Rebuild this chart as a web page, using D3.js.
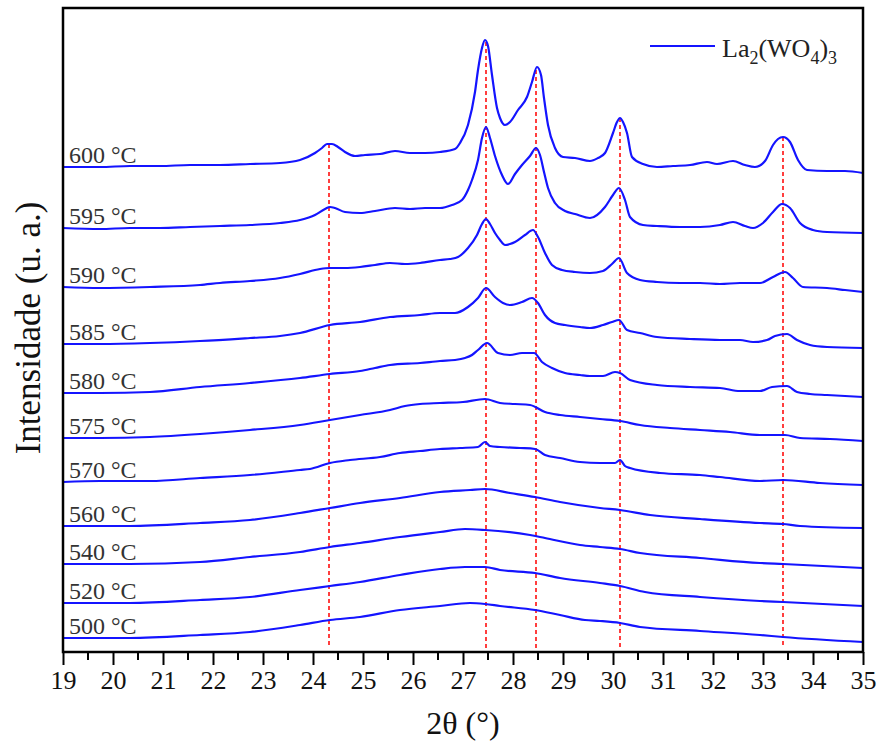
<!DOCTYPE html>
<html>
<head>
<meta charset="utf-8">
<script src="https://cdn.jsdelivr.net/npm/d3@7"></script>
<style>
  body { margin: 0; background: #fff; }
  svg { display: block; }
</style>
</head>
<body>
<div id="chart"></div>
<script>
// 2θ (degrees) vs stacked intensity (a.u.), one array per temperature
const s600 = [[19.00,488],[19.74,488],[20.34,489],[20.94,489],[21.54,490],[22.14,490],[22.74,491],[23.34,492],[23.74,495],[24.04,502],[24.18,507],[24.28,511],[24.38,511],[24.50,508],[24.64,503],[24.84,499],[25.04,500],[25.34,501],[25.64,504],[25.94,502],[26.24,502],[26.54,503],[26.84,506],[26.94,512],[27.10,530],[27.24,563],[27.30,585],[27.38,607],[27.44,615],[27.50,609],[27.58,580],[27.68,547],[27.74,537],[27.84,530],[27.94,533],[28.10,545],[28.28,558],[28.38,573],[28.48,588],[28.56,580],[28.62,557],[28.70,530],[28.84,507],[29.00,498],[29.24,497],[29.54,494],[29.70,497],[29.84,502],[30.00,522],[30.08,533],[30.14,537],[30.20,533],[30.28,522],[30.38,498],[30.60,491],[30.88,488],[31.20,489],[31.54,490],[31.88,493],[32.08,491],[32.40,494],[32.64,490],[32.84,488],[33.04,494],[33.20,510],[33.30,516],[33.40,518],[33.54,513],[33.70,495],[33.88,485],[34.28,484],[34.64,484],[35.00,482]];
const s595 = [[19.00,427],[19.74,426],[20.34,427],[20.94,427],[21.54,428],[22.14,429],[22.74,430],[23.34,432],[23.74,435],[24.04,440],[24.24,446],[24.34,448],[24.44,447],[24.64,443],[24.94,442],[25.24,444],[25.64,447],[25.94,446],[26.24,447],[26.54,447],[26.78,450],[26.98,455],[27.10,465],[27.18,475],[27.30,495],[27.38,517],[27.46,528],[27.54,517],[27.64,499],[27.78,480],[27.90,471],[28.04,481],[28.18,490],[28.34,499],[28.46,507],[28.54,500],[28.62,483],[28.70,467],[28.84,452],[29.04,444],[29.24,441],[29.54,437],[29.84,448],[30.00,460],[30.12,467],[30.24,455],[30.34,438],[30.60,430],[30.88,429],[31.34,428],[31.74,428],[32.14,430],[32.40,433],[32.64,429],[32.80,427],[33.00,432],[33.20,443],[33.38,451],[33.54,447],[33.74,432],[34.00,425],[34.28,423],[35.00,422]];
const s590 = [[19.00,368],[19.74,367],[20.74,368],[21.74,370],[22.14,372],[22.74,374],[23.34,377],[23.74,381],[24.14,386],[24.34,387],[24.64,387],[24.94,388],[25.24,390],[25.54,392],[25.84,391],[26.14,392],[26.54,395],[26.74,396],[26.90,398],[27.10,407],[27.28,420],[27.38,431],[27.46,436],[27.54,431],[27.64,422],[27.74,415],[27.84,410],[27.94,411],[28.04,413],[28.24,420],[28.40,425],[28.50,418],[28.64,402],[28.78,390],[28.98,385],[29.24,383],[29.54,382],[29.80,384],[29.98,391],[30.12,397],[30.28,382],[30.54,375],[30.88,373],[31.34,372],[31.74,372],[32.14,371],[32.54,372],[32.94,372],[33.20,378],[33.44,383],[33.60,377],[33.80,368],[34.28,367],[34.64,365],[35.00,363]];
const s585 = [[19.00,311],[19.74,311],[20.74,312],[21.74,314],[22.74,317],[23.34,319],[23.74,322],[24.34,330],[24.94,333],[25.54,338],[26.14,340],[26.54,342],[26.84,342],[27.10,348],[27.30,357],[27.46,367],[27.64,358],[27.80,352],[27.94,350],[28.18,353],[28.38,357],[28.50,352],[28.64,340],[28.84,332],[29.04,330],[29.34,328],[29.54,327],[29.80,330],[29.98,333],[30.12,335],[30.28,325],[30.54,322],[30.88,318],[31.54,316],[32.14,315],[32.54,315],[32.80,313],[33.08,315],[33.24,319],[33.48,321],[33.68,315],[33.94,310],[34.28,308],[35.00,307]];
const s580 = [[19.00,262],[19.74,262],[20.74,263],[21.74,268],[22.74,272],[23.74,277],[24.34,281],[24.94,284],[25.24,287],[25.54,290],[26.14,292],[26.54,294],[26.84,295],[27.04,297],[27.18,300],[27.30,305],[27.48,312],[27.70,302],[27.94,300],[28.18,302],[28.42,302],[28.58,293],[28.78,287],[29.04,282],[29.34,280],[29.54,279],[29.80,279],[30.04,283],[30.14,282],[30.34,275],[30.88,270],[31.54,268],[32.14,267],[32.54,264],[32.94,264],[33.18,268],[33.48,269],[33.68,263],[33.94,261],[34.28,260],[35.00,258]];
const s575 = [[19.00,217],[19.74,217],[20.74,218],[21.74,221],[22.74,225],[23.74,230],[24.34,235],[24.94,240],[25.54,245],[25.84,249],[26.14,251],[26.54,252],[27.00,253],[27.44,256],[27.74,252],[28.04,251],[28.34,250],[28.64,243],[28.94,240],[29.34,238],[29.74,236],[30.14,234],[30.54,230],[31.14,227],[31.74,225],[32.34,223],[32.94,220],[33.44,220],[33.74,217],[34.34,216],[35.00,214]];
const s570 = [[19.00,173],[19.74,174],[20.74,174],[21.74,177],[22.74,180],[23.74,185],[23.94,186],[24.34,192],[24.74,195],[25.34,198],[25.74,202],[26.14,204],[26.54,206],[26.94,207],[27.30,208],[27.44,213],[27.54,209],[27.74,208],[28.14,207],[28.44,206],[28.64,200],[28.94,197],[29.34,193],[29.74,192],[30.04,192],[30.14,195],[30.24,189],[30.34,187],[30.94,182],[31.74,180],[32.14,178],[32.94,174],[33.40,175],[34.14,172],[35.00,170]];
const s560 = [[19.00,129],[20.34,129],[21.74,132],[22.74,135],[23.74,142],[24.34,147],[24.94,152],[25.74,157],[26.54,163],[27.14,165],[27.44,166],[27.94,162],[28.44,158],[28.94,153],[29.74,147],[30.14,145],[30.74,140],[31.74,136],[32.94,132],[33.40,131],[33.74,129],[35.00,127]];
const s540 = [[19.00,91],[20.34,91],[21.74,93],[22.74,98],[23.74,103],[24.34,108],[24.94,112],[25.74,118],[26.54,123],[27.04,126],[27.44,125],[28.34,120],[28.64,117],[29.34,110],[29.74,108],[30.14,106],[30.54,102],[31.74,97],[32.94,92],[33.40,91],[35.00,87]];
const s520 = [[19.00,52],[20.34,52],[21.74,55],[22.74,58],[23.74,65],[24.34,69],[24.94,73],[25.74,80],[26.54,86],[27.04,88],[27.44,88],[27.74,85],[28.44,82],[28.94,77],[29.74,72],[30.14,69],[30.64,63],[31.74,58],[32.94,54],[33.40,53],[35.00,49]];
const s500 = [[19.00,17],[20.34,17],[21.74,20],[22.74,23],[23.74,30],[24.34,35],[24.94,38],[25.74,45],[26.54,49],[27.14,52],[27.44,51],[27.74,49],[28.44,45],[28.94,40],[29.44,35],[29.74,34],[30.14,32],[30.54,28],[31.74,24],[32.94,20],[33.40,18],[35.00,13]];

const temperatures = ['600 °C', '595 °C', '590 °C', '585 °C', '580 °C', '575 °C', '570 °C', '560 °C', '540 °C', '520 °C', '500 °C'];
const seriesList = [s600, s595, s590, s585, s580, s575, s570, s560, s540, s520, s500];
// La2(WO4)3 reflections marked with dashed lines
const refPeaks = [24.32, 27.46, 28.46, 30.14, 33.40];
const xTicks = d3.range(19, 36, 1);
const xMinorTicks = d3.range(19.5, 35, 1);

const W = 879, H = 742;
const margin = {top: 8, right: 16, bottom: 90, left: 63};
const width = W - margin.left - margin.right;
const height = H - margin.top - margin.bottom;

const x = d3.scaleLinear().domain([19, 35]).range([0, width]);
const y = d3.scaleLinear().domain([3, 647]).range([height, 0]);

const svg = d3.select('#chart').append('svg')
  .attr('width', W)
  .attr('height', H);

const g = svg.append('g')
  .attr('transform', `translate(${margin.left},${margin.top})`);

// value of the top pattern at a given angle, so reference lines start on it
function valueAt(series, t) {
  const i = d3.bisector(d => d[0]).left(series, t);
  if (i <= 0) return series[0][1];
  const a = series[i - 1], b = series[i];
  return a[1] + (b[1] - a[1]) * (t - a[0]) / (b[0] - a[0]);
}

g.selectAll('line.ref')
  .data(refPeaks)
  .enter()
  .append('line')
  .attr('class', 'ref')
  .attr('x1', d => x(d))
  .attr('x2', d => x(d))
  .attr('y1', d => y(valueAt(s600, d)))
  .attr('y2', height - 4)
  .attr('stroke', '#ff2a2a')
  .attr('stroke-width', 1.8)
  .attr('stroke-dasharray', '4,3');

const line = d3.line()
  .x(d => x(d[0]))
  .y(d => y(d[1]))
  .curve(d3.curveMonotoneX);

g.selectAll('path.trace')
  .data(seriesList)
  .enter()
  .append('path')
  .attr('class', 'trace')
  .attr('d', line)
  .attr('fill', 'none')
  .attr('stroke', '#1414ff')
  .attr('stroke-width', 2.2)
  .attr('stroke-linejoin', 'round');

g.selectAll('text.temp')
  .data(temperatures)
  .enter()
  .append('text')
  .attr('class', 'temp')
  .attr('x', 6)
  .attr('y', (d, i) => y(seriesList[i][0][1]) - 4)
  .attr('font-family', '"Liberation Serif", serif')
  .attr('font-size', 24)
  .attr('fill', '#333')
  .text(d => d);

// frame
g.append('rect')
  .attr('width', width)
  .attr('height', height)
  .attr('fill', 'none')
  .attr('stroke', '#000')
  .attr('stroke-width', 2.5);

// bottom axis: major + minor ticks pointing out
const xAxis = d3.axisBottom(x)
  .tickValues(xTicks)
  .tickFormat(d3.format('d'))
  .tickSize(13)
  .tickPadding(6);

const ax = g.append('g')
  .attr('transform', `translate(0,${height})`)
  .call(xAxis);
ax.select('.domain').remove();
ax.selectAll('line').attr('stroke', '#000').attr('stroke-width', 2);
ax.selectAll('text')
  .attr('font-family', '"Liberation Serif", serif')
  .attr('font-size', 26)
  .attr('fill', '#111');

g.append('g')
  .attr('transform', `translate(0,${height})`)
  .selectAll('line')
  .data(xMinorTicks)
  .enter()
  .append('line')
  .attr('x1', d => x(d))
  .attr('x2', d => x(d))
  .attr('y1', 0)
  .attr('y2', 8)
  .attr('stroke', '#000')
  .attr('stroke-width', 2);

// axis titles
svg.append('text')
  .attr('x', margin.left + width / 2)
  .attr('y', 734)
  .attr('text-anchor', 'middle')
  .attr('font-family', '"Liberation Serif", serif')
  .attr('font-size', 32)
  .attr('fill', '#111')
  .text('2θ (°)');

svg.append('text')
  .attr('transform', `translate(40,${margin.top + height / 2 - 2}) rotate(-90)`)
  .attr('text-anchor', 'middle')
  .attr('font-family', '"Liberation Serif", serif')
  .attr('font-size', 35)
  .attr('fill', '#111')
  .text('Intensidade (u. a.)');

// legend
const legend = svg.append('g').attr('transform', 'translate(650,46)');
legend.append('line')
  .attr('x1', 0)
  .attr('x2', 65)
  .attr('stroke', '#1414ff')
  .attr('stroke-width', 2.2);
const lt = legend.append('text')
  .attr('x', 72)
  .attr('y', 11)
  .attr('font-family', '"Liberation Serif", serif')
  .attr('font-size', 26)
  .attr('fill', '#222');
lt.append('tspan').text('La');
lt.append('tspan').attr('dy', 7).attr('font-size', 18).text('2');
lt.append('tspan').attr('dy', -7).text('(WO');
lt.append('tspan').attr('dy', 7).attr('font-size', 18).text('4');
lt.append('tspan').attr('dy', -7).text(')');
lt.append('tspan').attr('dy', 7).attr('font-size', 18).text('3');
</script>
</body>
</html>
